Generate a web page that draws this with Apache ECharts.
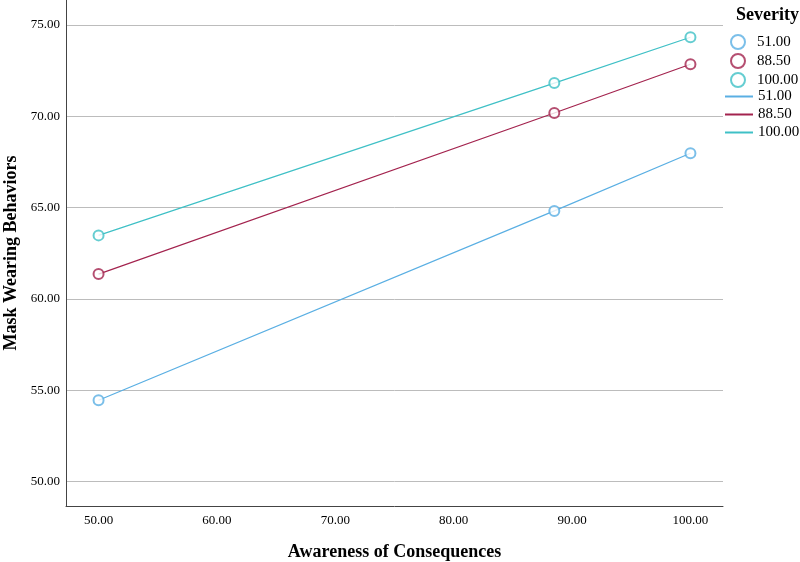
<!DOCTYPE html>
<html>
<head>
<meta charset="utf-8">
<script src="https://cdn.jsdelivr.net/npm/echarts@6/dist/echarts.min.js"></script>
<style>
  html, body { margin: 0; padding: 0; background: #fff; }
  #main { width: 800px; height: 562px; }
</style>
</head>
<body>
<div id="main"></div>
<script>
// awareness of consequences (x) at which each severity line is evaluated
var awareness = [50, 88.5, 100];
var severityNames = ['51.00', '88.50', '100.00'];
// mask wearing behaviors per severity level
var sev51 = [54.45, 64.82, 67.98];
var sev885 = [61.36, 70.18, 72.85];
var sev100 = [63.48, 71.82, 74.33];
var xTicks = [50, 60, 70, 80, 90, 100];
var yTicks = [50, 55, 60, 65, 70, 75];

var colors = ['#5aafe3', '#a3234e', '#3fc0c6'];
var values = [sev51, sev885, sev100];
var font = 'Liberation Serif';
var ZW = '\u200b';

var series = [];
values.forEach(function (v, i) {
    var pts = awareness.map(function (x, j) { return [x, v[j]]; });
    series.push({
        name: severityNames[i],
        type: 'scatter',
        symbol: 'emptyCircle',
        symbolSize: 10,
        itemStyle: { color: colors[i], borderWidth: 1.2 },
        data: pts,
        z: 3
    });
});
values.forEach(function (v, i) {
    var pts = awareness.map(function (x, j) { return [x, v[j]]; });
    series.push({
        name: severityNames[i] + ZW,
        type: 'line',
        symbol: 'none',
        lineStyle: { color: colors[i], width: 1.2 },
        itemStyle: { color: colors[i] },
        data: pts,
        z: 2
    });
});

var chart = echarts.init(document.getElementById('main'));
var option = {
    backgroundColor: '#fff',
    animation: false,
    title: {
        text: 'Severity',
        left: 731,
        top: 1,
        textStyle: { fontFamily: font, fontSize: 18, fontWeight: 'bold', color: '#000' }
    },
    legend: [
        {
            orient: 'vertical',
            left: 725,
            top: 29,
            itemWidth: 28,
            itemHeight: 14,
            itemGap: 3,
            data: severityNames.map(function (n) { return { name: n, icon: 'emptyCircle' }; }),
            textStyle: { fontFamily: font, fontSize: 15, color: '#000' },
            selectedMode: false
        },
        {
            orient: 'vertical',
            left: 720,
            top: 84,
            itemWidth: 28,
            itemHeight: 2,
            itemGap: 3,
            data: severityNames.map(function (n) { return { name: n + ZW, icon: 'rect' }; }),
            formatter: function (n) { return n.replace(ZW, ''); },
            textStyle: { fontFamily: font, fontSize: 15, color: '#000' },
            selectedMode: false
        }
    ],
    grid: { left: 66, right: 77, top: 0, bottom: 56, outerBoundsMode: 'none' },
    xAxis: {
        type: 'value',
        min: 47.25,
        max: 102.75,
        name: 'Awareness of Consequences',
        nameLocation: 'middle',
        nameGap: 37,
        nameTextStyle: { fontFamily: font, fontSize: 18, fontWeight: 'bold', color: '#000' },
        axisLine: { lineStyle: { color: '#444', width: 1 } },
        axisTick: { show: false, customValues: xTicks },
        axisLabel: {
            customValues: xTicks,
            margin: 8,
            fontFamily: font, fontSize: 13, color: '#000',
            formatter: function (v) { return v.toFixed(2); }
        },
        splitLine: { show: false }
    },
    yAxis: {
        type: 'value',
        min: 48.66,
        max: 76.37,
        name: 'Mask Wearing Behaviors',
        nameLocation: 'middle',
        nameGap: 44,
        nameTextStyle: { fontFamily: font, fontSize: 18, fontWeight: 'bold', color: '#000' },
        axisLine: { show: true, lineStyle: { color: '#444', width: 1 } },
        axisTick: { show: false, customValues: yTicks },
        axisLabel: {
            customValues: yTicks,
            margin: 6,
            fontFamily: font, fontSize: 13, color: '#000',
            formatter: function (v) { return v.toFixed(2); }
        },
        splitLine: { show: true, lineStyle: { color: '#bcbcbc', width: 1 } }
    },
    series: series
};
chart.setOption(option);
</script>
</body>
</html>
